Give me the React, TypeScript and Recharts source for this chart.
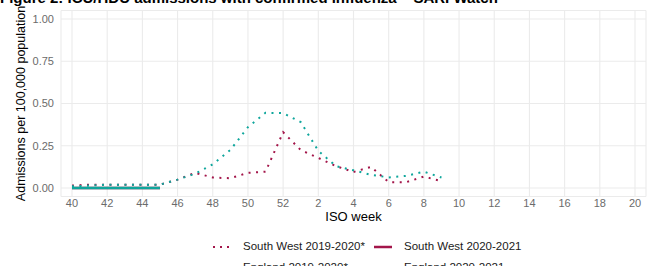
import { LineChart, Line, XAxis, YAxis, CartesianGrid, Label } from 'recharts'

// ISO weeks shown on the x axis (season runs week 40 to week 20)
const weeks = [40, 41, 42, 43, 44, 45, 46, 47, 48, 49, 50, 51, 52, 1, 2, 3, 4, 5, 6, 7, 8, 9, 10, 11, 12, 13, 14, 15, 16, 17, 18, 19, 20]

// admissions per 100,000 population
const southWest1920 = [0.015, 0.02, 0.02, 0.02, 0.02, 0.02, 0.05, 0.09, 0.062, 0.058, 0.09, 0.097, 0.33, 0.225, 0.178, 0.13, 0.095, 0.125, 0.035, 0.035, 0.068, 0.04]
const southWest2021 = [0, 0, 0, 0, 0, 0]
const england1920 = [0.01, 0.015, 0.02, 0.02, 0.02, 0.02, 0.05, 0.085, 0.14, 0.225, 0.36, 0.445, 0.443, 0.39, 0.22, 0.13, 0.105, 0.078, 0.063, 0.072, 0.097, 0.062]
const england2021 = [0, 0, 0, 0, 0, 0]

const yTicks = [0, 0.25, 0.5, 0.75, 1]
const xTicks = weeks.map((_, i) => i).filter((i) => i % 2 === 0)

const CRIMSON = '#A3164A'
const TEAL = '#0FA69C'

const data = weeks.map((w, i) => ({
  idx: i,
  week: w,
  swPrev: southWest1920[i] ?? null,
  swCur: southWest2021[i] ?? null,
  engPrev: england1920[i] ?? null,
  engCur: england2021[i] ?? null,
}))

const legendItems = [
  { label: 'South West 2019-2020*', color: CRIMSON, dotted: true },
  { label: 'South West 2020-2021', color: CRIMSON, dotted: false },
  { label: 'England 2019-2020*', color: TEAL, dotted: true },
  { label: 'England 2020-2021', color: TEAL, dotted: false },
]

const FONT = '"Liberation Sans", Arial, Helvetica, sans-serif'

function LegendKey({ color, dotted }: { color: string; dotted: boolean }) {
  return (
    <svg width={22} height={10} style={{ display: 'block' }}>
      {dotted ? (
        <line x1={2} y1={5} x2={22} y2={5} stroke={color} strokeWidth={2} strokeDasharray="2 5" />
      ) : (
        <line x1={2} y1={5} x2={20} y2={5} stroke={color} strokeWidth={2.5} />
      )}
    </svg>
  )
}

export default function App() {
  return (
    <div style={{ position: 'relative', width: 658, height: 266, overflow: 'hidden', background: '#fff', fontFamily: FONT }}>
      <style>{'body{margin:0}'}</style>
      <div style={{ position: 'absolute', left: 0, top: -11, fontSize: 15, fontWeight: 'bold', color: '#000', whiteSpace: 'nowrap' }}>
        Figure 2: ICU/HDU admissions with confirmed influenza – SARI Watch
      </div>
      <LineChart width={658} height={266} data={data} margin={{ top: 10.5, right: 12, bottom: 29.5, left: 0 }}>
        <CartesianGrid stroke="#EBEBEB" strokeWidth={1.1} />
        <XAxis
          dataKey="idx"
          type="number"
          domain={[-0.625, 32.625]}
          ticks={xTicks}
          tickFormatter={(v: number) => String(weeks[v])}
          axisLine={false}
          tickLine={false}
          tickSize={0}
          tickMargin={3}
          height={40}
          tick={{ fontSize: 11, fill: '#6B6B6B', fontFamily: FONT }}
          allowDataOverflow
        >
          <Label value="ISO week" position="center" dy={0} style={{ fontSize: 13, fill: '#000', fontFamily: FONT }} />
        </XAxis>
        <YAxis
          type="number"
          domain={[-0.05, 1.05]}
          ticks={yTicks}
          tickFormatter={(v: number) => v.toFixed(2)}
          axisLine={false}
          tickLine={false}
          tickSize={0}
          tickMargin={7}
          width={61}
          tick={{ fontSize: 11, fill: '#6B6B6B', fontFamily: FONT }}
          allowDataOverflow
        >
          <Label value="Admissions per 100,000 population" angle={-90} position="center" dx={-10} style={{ fontSize: 12.5, fill: '#000', fontFamily: FONT }} />
        </YAxis>
        <Line dataKey="swCur" stroke={CRIMSON} strokeWidth={2.5} dot={false} isAnimationActive={false} connectNulls={false} />
        <Line dataKey="engCur" stroke={TEAL} strokeWidth={2.5} dot={false} isAnimationActive={false} connectNulls={false} />
        <Line dataKey="swPrev" stroke={CRIMSON} strokeWidth={2} strokeDasharray="2 5.5" dot={false} isAnimationActive={false} />
        <Line dataKey="engPrev" stroke={TEAL} strokeWidth={2} strokeDasharray="2 5.5" dot={false} isAnimationActive={false} />
      </LineChart>
      <div style={{ position: 'absolute', left: 211, top: 238, display: 'grid', gridTemplateColumns: '32px 129px 32px auto', rowGap: 4, alignItems: 'center', fontSize: 11.5, color: '#1a1a1a', lineHeight: '17px' }}>
        {legendItems.map((it) => (
          <>
            <LegendKey key={it.label + 'k'} color={it.color} dotted={it.dotted} />
            <span key={it.label}>{it.label}</span>
          </>
        ))}
      </div>
    </div>
  )
}
